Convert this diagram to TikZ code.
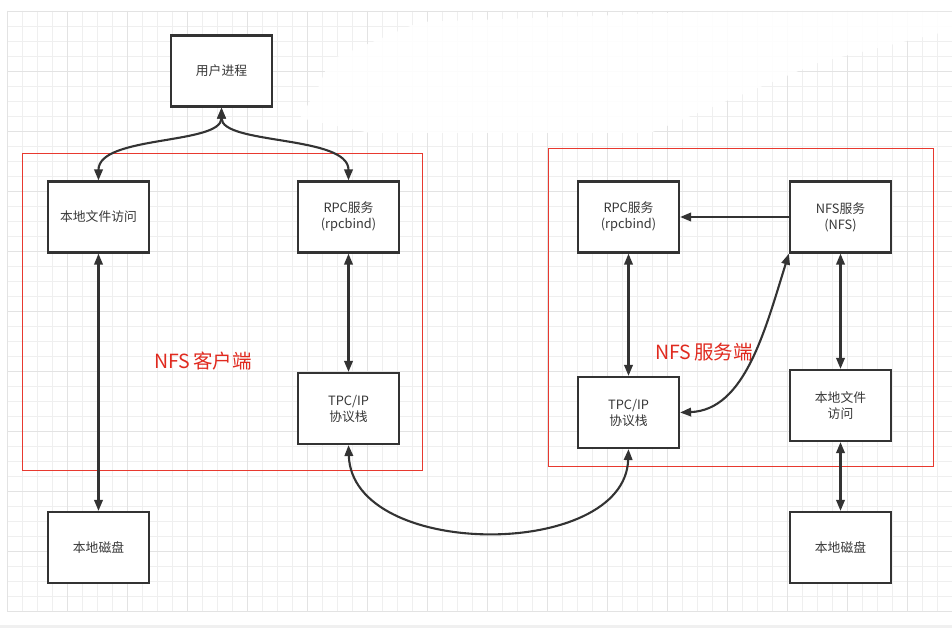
\documentclass[tikz,border=0pt]{standalone}
\usepackage{fontspec}
\setmainfont{Noto Sans CJK SC}
\usetikzlibrary{arrows.meta}
\definecolor{ink}{HTML}{333333}
\definecolor{txt}{HTML}{383838}
\definecolor{gridminor}{HTML}{EFEFEF}
\definecolor{gridmajor}{HTML}{E3E3E3}
\definecolor{redline}{HTML}{E8392F}
\definecolor{redlabel}{HTML}{E02A1F}
\begin{document}
\begin{tikzpicture}[x=1pt,y=-1pt,
  box/.style={draw=ink,line width=2.2pt,fill=white,minimum width=101pt,minimum height=71pt,
    inner sep=2pt,align=center,font=\fontsize{12.8}{16}\selectfont,text=txt},
  group/.style={draw=redline,line width=1pt},
  grouplabel/.style={text=redlabel,font=\fontsize{19.5}{19.5}\selectfont},
  link/.style={draw=ink,line width=2.1pt,{Triangle[length=11pt,width=8.5pt]}-{Triangle[length=11pt,width=8.5pt]}},
  onelink/.style={draw=ink,line width=2.1pt,-{Triangle[length=11pt,width=8.5pt]}}]
\useasboundingbox (0,0) rectangle (952,628);
\fill[white] (0,0) rectangle (952,628);
% grid
\foreach \x in {7,22,...,952} \draw[gridminor,line width=0.8pt] (\x,11) -- (\x,612);
\foreach \y in {11,26,...,612} \draw[gridminor,line width=0.8pt] (7,\y) -- (952,\y);
\foreach \x in {7,67,...,952} \draw[gridmajor,line width=0.9pt] (\x,11) -- (\x,612);
\foreach \y in {11,71,...,612} \draw[gridmajor,line width=0.9pt] (7,\y) -- (952,\y);
% erased area
\fill[white,opacity=0.9] (300,118) -- (318,88) -- (330,60) -- (420,22) -- (700,12) -- (952,12) -- (952,30)
  -- (820,62) -- (700,112) -- (650,133) -- (370,133) -- cycle;
\fill[gray!12] (0,625) rectangle (952,628);
% groups
\node[group,minimum width=400pt,minimum height=316pt] (client) at (222,312) {};
\node[group,minimum width=385pt,minimum height=317pt] (server) at (740.5,307.5) {};
\node[grouplabel] (clientlabel) at (203,361) {NFS\,客户端};
\node[grouplabel] (serverlabel) at (704,352) {NFS\,服务端};
% boxes
\node[box] (user) at (221.5,71) {用户进程};
\node[box] (lfac) at (98.5,217) {本地文件访问};
\node[box] (rpcc) at (348.5,217) {RPC服务\\(rpcbind)};
\node[box] (tcpc) at (348.5,408.5) {TPC/IP\\协议栈};
\node[box] (diskc) at (98.5,547.5) {本地磁盘};
\node[box] (rpcs) at (628.5,217) {RPC服务\\(rpcbind)};
\node[box] (nfs) at (840.5,217) {NFS服务\\(NFS)};
\node[box] (tcps) at (628.5,412.5) {TPC/IP\\协议栈};
\node[box] (lfas) at (840.5,405.5) {本地文件\\访问};
\node[box] (disks) at (840.5,547.5) {本地磁盘};
% connectors
\draw[link] (user.south) .. controls (221.5,145) and (98.5,135) .. (lfac.north);
\draw[link] (user.south) .. controls (221.5,145) and (348.5,135) .. (rpcc.north);
\draw[link] (lfac.south) -- (diskc.north);
\draw[link] (rpcc.south) -- (tcpc.north);
\draw[link] (tcpc.south) .. controls (352,560) and (625,560) .. (tcps.south);
\draw[link] (tcps.north) -- (rpcs.south);
\draw[onelink] (nfs.west) -- (rpcs.east);
\draw[link] (nfs.south west) .. controls (765,330) and (745,410) .. (tcps.east);
\draw[link] (nfs.south) -- (lfas.north);
\draw[link] (lfas.south) -- (disks.north);
\end{tikzpicture}
\end{document}
